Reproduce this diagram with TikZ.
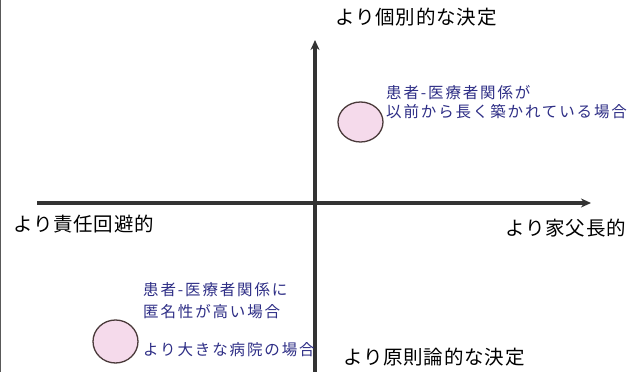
\documentclass[tikz,border=0pt]{standalone}
\usepackage{fontspec}
\newfontfamily\jp{Noto Sans CJK JP}
\newfontfamily\jpwide[LetterSpace=12]{Noto Sans CJK JP}
\newfontfamily\jpaxis[LetterSpace=4]{Noto Sans CJK JP}
\usetikzlibrary{arrows.meta,shapes.geometric}
\definecolor{axisgray}{HTML}{333333}
\definecolor{navytext}{HTML}{2E2E86}
\definecolor{pinkfill}{HTML}{F5DAEB}
\definecolor{rimcol}{HTML}{4A3A3A}
\tikzset{
  axisline/.style={draw=axisgray, line width=3.2pt, -{Stealth[length=10pt,width=9pt]}},
  axislabel/.style={inner sep=0pt, text=black, font=\jpaxis\fontsize{19.5}{22}\selectfont},
  caselabel/.style={inner sep=0pt, anchor=west, text=navytext, font=\jpwide\fontsize{15.5}{18}\selectfont},
  casedot/.style={ellipse, draw=rimcol, line width=1.3pt, fill=pinkfill, inner sep=0pt},
}
\begin{document}
\begin{tikzpicture}[x=1pt,y=1pt]
\useasboundingbox (0,0) rectangle (638,372);
\fill[white] (0,0) rectangle (638,372);
\draw[gray!70!black, line width=1pt] (0.5,0) -- (0.5,372);
% axes
\coordinate (vbot) at (315,0);
\coordinate (vtop) at (315,332);
\coordinate (hleft) at (37,169);
\coordinate (hright) at (591,169);
\draw[axisline] (vbot) -- (vtop);
\draw[axisline] (hleft) -- (hright);
% axis labels
\node[axislabel, anchor=center] (ltop) at (416,355) {より個別的な決定};
\node[axislabel, anchor=west] (lleft) at (13,148) {より責任回避的};
\node[axislabel, anchor=east] (lright) at (626,144) {より家父長的};
\node[axislabel, anchor=west] (lbottom) at (343,15) {より原則論的な決定};
% upper case
\node[casedot, minimum width=45pt, minimum height=40pt] (dotup) at (360.5,250) {};
\node[caselabel] (up1) at (386,279) {患者-医療者関係が};
\node[caselabel] (up2) at (386,260) {以前から長く築かれている場合};
% lower case
\node[casedot, minimum width=45pt, minimum height=43pt] (dotlow) at (115.5,30.5) {};
\node[caselabel] (low1) at (143,82) {患者-医療者関係に};
\node[caselabel] (low2) at (143,60) {匿名性が高い場合};
\node[caselabel] (low3) at (143,22) {より大きな病院の場合};
\end{tikzpicture}
\end{document}
